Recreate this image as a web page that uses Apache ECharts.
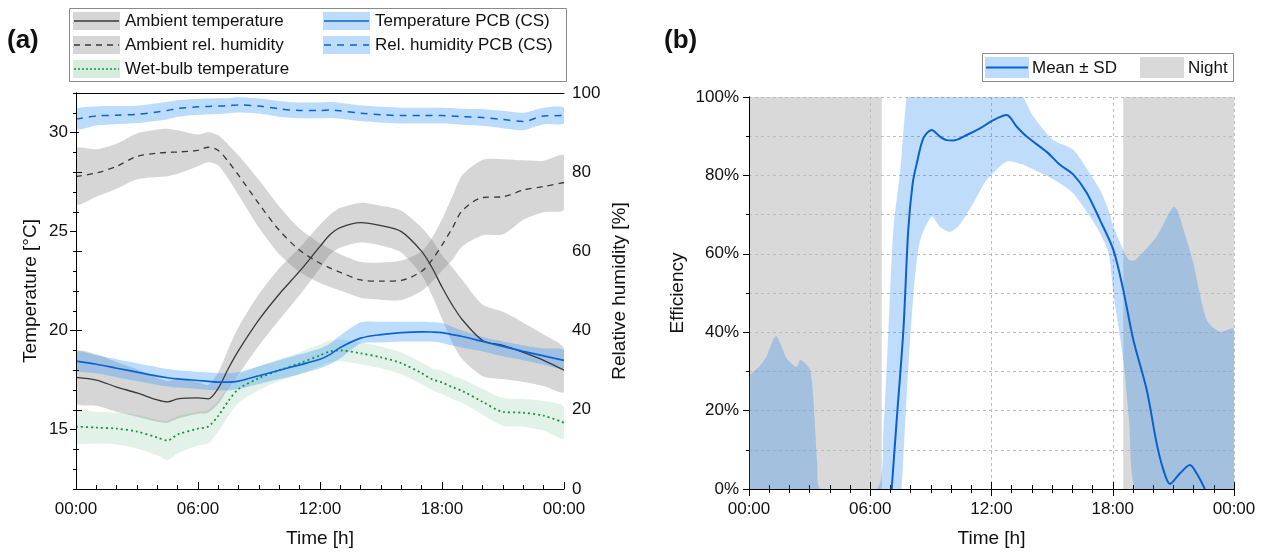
<!DOCTYPE html>
<html><head><meta charset="utf-8">
<script src="https://cdn.jsdelivr.net/npm/echarts@6/dist/echarts.min.js"></script>
<style>html,body{margin:0;padding:0;background:#fff}#c{width:1264px;height:558px}</style>
</head><body><div id="c"></div>
<script>
// ---------- DATA ----------
const hourTicks = ['00:00','06:00','12:00','18:00','00:00'];
const timeA = [0,1,2,3,4,4.5,5,6,6.5,7,7.5,8,9,10,11,12,12.5,13,14,15,16,17,17.5,18,18.5,19,20,21,22,23,24];
const ambTempMean = [17.64,17.5,17.15,16.85,16.5,16.4,16.55,16.6,16.55,17.1,18.1,19.0,20.55,21.85,23.0,24.25,24.85,25.2,25.45,25.3,25.0,24.0,23.2,22.2,21.3,20.55,19.5,19.25,18.9,18.5,18.0];
const ambTempSD   = [1.3,1.3,1.25,1.2,1.1,1.05,1.0,0.8,0.7,0.8,1.0,1.2,1.3,1.3,1.2,1.1,1.0,1.0,1.0,1.0,1.05,1.2,1.4,1.6,1.9,2.0,1.8,1.7,1.5,1.3,1.1];
const ambRHMean   = [78.9,79.8,81.5,84.0,84.8,85.0,85.1,85.5,86.3,85.5,82.6,79.2,72.0,65.3,60.3,57.0,55.8,54.7,52.8,52.5,52.7,55.0,57.8,61.6,65.8,70.3,73.6,73.8,75.5,76.4,77.4];
const ambRHSD     = [7.0,6.0,5.7,5.8,6.0,6.0,5.5,4.0,3.8,3.8,4.3,5.0,6.0,6.0,5.5,5.0,4.8,4.6,4.5,4.7,5.0,5.0,5.5,6.5,8.0,9.0,9.5,9.5,7.5,6.5,6.8];
const wetBulbMean = [15.15,15.1,15.05,14.9,14.6,14.45,14.75,15.05,15.15,15.7,16.45,17.05,17.6,18.0,18.35,18.75,18.95,19.0,18.85,18.65,18.35,17.85,17.55,17.38,17.15,16.95,16.4,15.9,15.85,15.7,15.35];
const wetBulbSD   = [0.8,0.8,0.8,0.85,0.9,1.0,0.95,0.85,0.85,0.8,0.75,0.7,0.6,0.55,0.55,0.55,0.55,0.55,0.55,0.55,0.55,0.55,0.55,0.6,0.6,0.6,0.65,0.7,0.7,0.75,0.8];
const pcbTempMean = [18.46,18.3,18.1,17.9,17.7,17.62,17.56,17.48,17.44,17.4,17.4,17.45,17.72,18.0,18.27,18.55,18.8,19.15,19.62,19.8,19.9,19.94,19.93,19.9,19.8,19.7,19.45,19.2,18.95,18.72,18.5];
const pcbTempLow  = [18.0,17.85,17.65,17.45,17.25,17.18,17.12,17.05,17.0,16.98,16.98,17.05,17.3,17.55,17.8,18.1,18.3,18.6,19.35,19.4,19.45,19.45,19.45,19.38,19.25,19.15,18.95,18.7,18.5,18.28,18.1];
const pcbTempHigh = [18.93,18.75,18.55,18.35,18.15,18.06,18.0,17.92,17.88,17.85,17.85,17.9,18.2,18.5,18.8,19.1,19.35,19.75,20.42,20.45,20.45,20.45,20.42,20.38,20.2,20.0,19.68,19.45,19.25,19.1,19.02];
const pcbRHMean   = [93.4,94.2,94.4,94.6,95.2,95.6,96.1,96.5,96.6,96.7,96.8,97.0,96.7,96.0,95.6,95.6,95.7,95.5,94.9,94.5,94.3,94.3,94.3,94.3,94.2,94.0,93.8,93.3,92.8,94.2,94.3];
const pcbRHSD     = [2.5,2.4,2.3,2.2,2.2,2.2,2.1,2.0,2.0,2.0,1.9,1.9,1.9,2.0,2.0,2.0,2.0,2.0,2.0,2.0,2.0,2.0,2.0,2.0,2.0,2.0,2.1,2.2,2.2,2.1,2.0];

const effTime = [7.06,7.3,7.64,7.88,8.1,8.3,8.63,9.04,9.45,9.78,10.1,10.77,11.43,12.09,12.75,13.25,13.74,14.73,15.39,16.05,16.71,17.37,18.03,18.52,19.02,19.68,20.17,20.5,20.83,21.33,21.82,22.15,22.56];
const effMean = [0,17,40.6,66,78,83,89.5,91.6,89.9,89,88.9,90.3,92,94.1,95.4,92.4,89.9,86,82.7,80.2,75.6,68.6,61,50.8,38,25.3,11.7,5,1.3,4,6.1,4,0];
const bandTime = [0,0.5,0.87,1.12,1.34,1.62,1.87,2.36,2.52,2.69,3.02,3.18,3.38,3.55,6.32,6.65,6.9,7.14,7.47,7.55,7.8,8.13,8.45,9.04,9.45,9.94,10.4,11.1,11.76,12.75,13.57,14.07,15.06,16.05,16.87,17.4,17.8,18.03,18.52,18.8,19.1,20.17,21.05,21.66,21.99,22.65,23.3,24];
const bandLow  = [0,0,0,0,0,0,0,0,0,0,0,0,0,0,0,0,0,0,0,0,23.5,49,63,69.5,66.9,65.6,67.3,72.9,78.8,83.5,82.7,81.5,79,75.4,69.5,65,60,50,33,18,0,0,0,0,0,0,0,0];
const bandHigh = [28.5,31.2,33.8,37.2,39,36.3,33.3,31.2,32.9,32.5,30.4,23.5,6.6,0,0,15,40.6,66,80.5,85,100,108,112,113,112,112,111,110,108,106,100,95,89,86.5,80.5,76,71,67,61,58.5,58.4,64.4,72,63.5,57.6,43.1,40.1,40.8];
const nightStart = [0, 18.52];
const nightEnd   = [6.57, 24];

// ---------- CHART ----------
const FONT = '"Liberation Sans", Arial, sans-serif';
const chart = echarts.init(document.getElementById('c'));
const pairs = (xs, ys) => xs.map((x, i) => [x, ys[i]]);
const minus = (a, b) => a.map((v, i) => v - b[i]);
const plus = (a, b) => a.map((v, i) => v + b[i]);

// shaded band (lower..upper) drawn as one polygon through the axis scales
function band(xi, yi, xs, lo, hi, color, z) {
  return {type:'custom', xAxisIndex:xi, yAxisIndex:yi, z:z, silent:true, clip:true,
    data: xs.map((x, i) => [x, lo[i], hi[i]]),
    encode:{x:0, y:[1,2]},
    renderItem:(params, api) => {
      if (params.dataIndex !== 0) return null;
      const pts = [];
      for (let i = 0; i < xs.length; i++) pts.push(api.coord([xs[i], hi[i]]));
      for (let i = xs.length - 1; i >= 0; i--) pts.push(api.coord([xs[i], lo[i]]));
      const cs = params.coordSys;
      return {type:'polygon', shape:{points:pts, smooth:0.25}, style:{fill:color},
        clipPath:{type:'rect', shape:{x:cs.x, y:cs.y, width:cs.width, height:cs.height}}};
    }};
}
function line(xi, yi, xs, ys, color, type, width, z) {
  return {type:'line', xAxisIndex:xi, yAxisIndex:yi, data:pairs(xs, ys), symbol:'none', smooth:0.3,
    lineStyle:{color:color, type:type, width:width}, silent:true, z:z};
}

const axisLbl = {fontFamily:FONT, fontSize:17, color:'#111'};
const nameStyle = {fontFamily:FONT, fontSize:19, color:'#111'};
const blackLine = {show:true, lineStyle:{color:'#000', width:1}};
const timeFmt = v => hourTicks[Math.round(v/6)];

const GRAY = 'rgba(120,120,120,0.30)';
const GREEN = 'rgba(90,180,120,0.17)';
const BLUE = 'rgba(30,140,250,0.30)';
const BLUE_B = 'rgba(30,130,240,0.28)';

const series = [];
series.push(band(0, 1, timeA, minus(ambRHMean, ambRHSD), plus(ambRHMean, ambRHSD), GRAY, 2));
series.push(band(0, 0, timeA, minus(ambTempMean, ambTempSD), plus(ambTempMean, ambTempSD), GRAY, 2));
series.push(band(0, 0, timeA, minus(wetBulbMean, wetBulbSD), plus(wetBulbMean, wetBulbSD), GREEN, 2));
series.push(band(0, 0, timeA, pcbTempLow, pcbTempHigh, BLUE, 2));
series.push(band(0, 1, timeA, minus(pcbRHMean, pcbRHSD), plus(pcbRHMean, pcbRHSD), BLUE, 2));
series.push(line(0, 1, timeA, ambRHMean, '#3a3a3a', [6,5], 1.3, 3));
series.push(line(0, 0, timeA, ambTempMean, '#3a3a3a', 'solid', 1.3, 3));
series.push(line(0, 0, timeA, wetBulbMean, '#16963c', [2,3], 1.8, 3));
series.push(line(0, 0, timeA, pcbTempMean, '#0b63d3', 'solid', 1.7, 3));
series.push(line(0, 1, timeA, pcbRHMean, '#0b63d3', [7,6], 1.5, 3));

// panel b
series.push({type:'custom', xAxisIndex:2, yAxisIndex:3, z:0, silent:true,
  data: nightStart.map((s, i) => [s, nightEnd[i]]),
  encode:{x:[0,1]},
  renderItem:(params, api) => {
    const p0 = api.coord([api.value(0), 100]);
    const p1 = api.coord([api.value(1), 0]);
    return {type:'rect', shape:{x:p0[0], y:p0[1], width:p1[0]-p0[0], height:p1[1]-p0[1]}, style:{fill:'#d9d9d9'}};
  }});
series.push(band(2, 3, bandTime, bandLow, bandHigh, BLUE_B, 2));
series.push(line(2, 3, effTime, effMean, '#0a60cf', 'solid', 2, 4));

const gridLineStyle = {color:'#bdbdbd', type:[3,3], width:1};

const option = {
  animation:false,
  textStyle:{fontFamily:FONT},
  grid:[{left:76, right:700, top:93, bottom:69}, {left:749, right:30, top:97, bottom:69}],
  xAxis:[
    {gridIndex:0, type:'value', min:0, max:24, interval:6, position:'bottom', z:5, axisLine:blackLine,
     axisTick:{show:true, inside:true, length:7, lineStyle:{color:'#000'}},
     minorTick:{show:true, splitNumber:6, length:4, lineStyle:{color:'#000'}},
     axisLabel:Object.assign({formatter:timeFmt, margin:12}, axisLbl),
     splitLine:{show:false},
     name:'Time [h]', nameLocation:'middle', nameGap:40, nameTextStyle:nameStyle},
    {gridIndex:0, type:'value', min:0, max:24, position:'top', z:5, axisLine:blackLine,
     axisTick:{show:false}, axisLabel:{show:false}, splitLine:{show:false}},
    {gridIndex:1, type:'value', min:0, max:24, interval:6, position:'bottom', z:1, axisLine:blackLine,
     axisTick:{show:true, inside:true, length:7, lineStyle:{color:'#000'}},
     minorTick:{show:true, splitNumber:6, length:4, lineStyle:{color:'#000'}},
     axisLabel:Object.assign({formatter:timeFmt, margin:12}, axisLbl),
     splitLine:{show:true, lineStyle:gridLineStyle},
     name:'Time [h]', nameLocation:'middle', nameGap:40, nameTextStyle:nameStyle},
    {gridIndex:1, type:'value', min:0, max:24, interval:6, position:'top', z:1, axisLine:blackLine,
     axisTick:{show:true, inside:true, length:7, lineStyle:{color:'#000'}},
     minorTick:{show:true, splitNumber:6, length:4, lineStyle:{color:'#000'}},
     axisLabel:{show:false}, splitLine:{show:false}}
  ],
  yAxis:[
    {gridIndex:0, type:'value', min:12, max:32, interval:1, position:'left', z:5, axisLine:blackLine,
     axisTick:{show:true, length:6, customValues:[15,20,25,30], lineStyle:{color:'#000'}},
     axisLabel:Object.assign({customValues:[15,20,25,30], margin:8}, axisLbl),
     splitLine:{show:false},
     name:'Temperature [°C]', nameLocation:'middle', nameGap:36, nameTextStyle:nameStyle},
    {gridIndex:0, type:'value', min:0, max:100, interval:20, position:'right', z:5, axisLine:blackLine,
     axisTick:{show:true, length:6, lineStyle:{color:'#000'}},
     minorTick:{show:true, splitNumber:2, length:3, lineStyle:{color:'#000'}},
     axisLabel:Object.assign({margin:8}, axisLbl), splitLine:{show:false},
     name:'Relative humidity [%]', nameLocation:'middle', nameGap:46, nameTextStyle:nameStyle},
    {gridIndex:0, type:'value', min:12, max:32, interval:1, position:'left', z:5, axisLine:{show:false},
     axisTick:{show:true, length:3, lineStyle:{color:'#000'}}, axisLabel:{show:false}, splitLine:{show:false}},
    {gridIndex:1, type:'value', min:0, max:100, interval:20, position:'left', z:1, axisLine:blackLine,
     axisTick:{show:true, length:6, lineStyle:{color:'#000'}},
     minorTick:{show:true, splitNumber:2, length:3, lineStyle:{color:'#000'}},
     axisLabel:Object.assign({formatter:'{value}%', margin:10}, axisLbl),
     splitLine:{show:true, lineStyle:gridLineStyle},
     minorSplitLine:{show:true, lineStyle:gridLineStyle},
     name:'Efficiency', nameLocation:'middle', nameGap:62, nameTextStyle:nameStyle},
    {gridIndex:1, type:'value', min:0, max:100, position:'right', z:1, axisLine:blackLine,
     axisTick:{show:false}, axisLabel:{show:false}, splitLine:{show:false}}
  ],
  series:series,
  graphic:[]
};

// legends and panel labels
const g = option.graphic;
const txt = (x, y, s, size, bold) => ({type:'text', x:x, y:y, z:20, style:{text:s, fill:'#111', font:(bold?'bold ':'')+size+'px '+FONT, textVerticalAlign:'middle', verticalAlign:'middle'}});
g.push(txt(7, 41, '(a)', 26, true));
g.push(txt(664, 41, '(b)', 26, true));
g.push({type:'rect', z:19, shape:{x:69.5, y:8.5, width:497, height:73}, style:{fill:'#fff', stroke:'#8a8a8a', lineWidth:1}});
const legA = [
  {x:73, y:21, s:'Ambient temperature', patch:'#d6d6d6', c:'#3a3a3a', d:null},
  {x:73, y:45, s:'Ambient rel. humidity', patch:'#d6d6d6', c:'#3a3a3a', d:[6,5]},
  {x:73, y:69, s:'Wet-bulb temperature', patch:'#d7ecdc', c:'#16963c', d:[2,2]},
  {x:323, y:21, s:'Temperature PCB (CS)', patch:'#bcdcfb', c:'#0b63d3', d:null},
  {x:323, y:45, s:'Rel. humidity PCB (CS)', patch:'#bcdcfb', c:'#0b63d3', d:[7,6]}
];
legA.forEach(it => {
  g.push({type:'rect', z:20, shape:{x:it.x, y:it.y-9, width:47, height:18}, style:{fill:it.patch}});
  g.push({type:'line', z:21, shape:{x1:it.x+1, y1:it.y, x2:it.x+46, y2:it.y}, style:{stroke:it.c, lineWidth:1.5, lineDash:it.d}});
  g.push(txt(it.x+52, it.y, it.s, 17, false));
});
g.push({type:'rect', z:19, shape:{x:982.5, y:53.5, width:251, height:28}, style:{fill:'#fff', stroke:'#8a8a8a', lineWidth:1}});
g.push({type:'rect', z:20, shape:{x:985, y:57, width:44, height:21}, style:{fill:'#bcdcfb'}});
g.push({type:'line', z:21, shape:{x1:986, y1:67.5, x2:1028, y2:67.5}, style:{stroke:'#0a60cf', lineWidth:2}});
g.push(txt(1032, 68, 'Mean ± SD', 17, false));
g.push({type:'rect', z:20, shape:{x:1140, y:57, width:44, height:21}, style:{fill:'#d9d9d9'}});
g.push(txt(1188, 68, 'Night', 17, false));

chart.setOption(option);
</script></body></html>
